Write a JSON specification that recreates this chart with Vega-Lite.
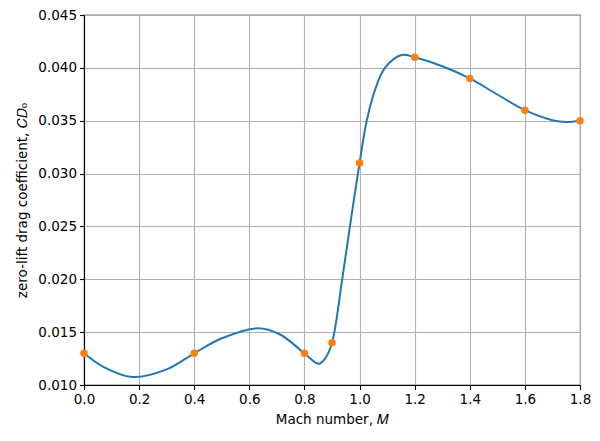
{
  "$schema": "https://vega.github.io/schema/vega-lite/v6.json",
  "width": 496,
  "height": 370,
  "autosize": "none",
  "padding": {"left": 84, "top": 15, "right": 20, "bottom": 56},
  "background": "white",
  "datasets": {
    "curve": [
      {"M": 0.0, "CD0": 0.0130},
      {"M": 0.07, "CD0": 0.01172},
      {"M": 0.175, "CD0": 0.01076},
      {"M": 0.3, "CD0": 0.01148},
      {"M": 0.4, "CD0": 0.0130},
      {"M": 0.5, "CD0": 0.01442},
      {"M": 0.63, "CD0": 0.01536},
      {"M": 0.71, "CD0": 0.0148},
      {"M": 0.8, "CD0": 0.0130},
      {"M": 0.852, "CD0": 0.0120},
      {"M": 0.875, "CD0": 0.0125},
      {"M": 0.9, "CD0": 0.0140},
      {"M": 0.937, "CD0": 0.0200},
      {"M": 0.965, "CD0": 0.0250},
      {"M": 1.0, "CD0": 0.0310},
      {"M": 1.026, "CD0": 0.0350},
      {"M": 1.056, "CD0": 0.0379},
      {"M": 1.092, "CD0": 0.0400},
      {"M": 1.153, "CD0": 0.04122},
      {"M": 1.2, "CD0": 0.0410},
      {"M": 1.3, "CD0": 0.04015},
      {"M": 1.4, "CD0": 0.0390},
      {"M": 1.5, "CD0": 0.03748},
      {"M": 1.6, "CD0": 0.0360},
      {"M": 1.7, "CD0": 0.03505},
      {"M": 1.75, "CD0": 0.03488},
      {"M": 1.8, "CD0": 0.0350}
    ],
    "measured": [
      {"M": 0.0, "CD0": 0.013},
      {"M": 0.4, "CD0": 0.013},
      {"M": 0.8, "CD0": 0.013},
      {"M": 0.9, "CD0": 0.014},
      {"M": 1.0, "CD0": 0.031},
      {"M": 1.2, "CD0": 0.041},
      {"M": 1.4, "CD0": 0.039},
      {"M": 1.6, "CD0": 0.036},
      {"M": 1.8, "CD0": 0.035}
    ]
  },
  "encoding": {
    "x": {
      "field": "M",
      "type": "quantitative",
      "scale": {"domain": [0, 1.8], "nice": false, "zero": false},
      "axis": {
        "title": "Mach number, 𝑀",
        "values": [0, 0.2, 0.4, 0.6, 0.8, 1.0, 1.2, 1.4, 1.6, 1.8],
        "format": ".1f",
        "titlePadding": 6
      }
    },
    "y": {
      "field": "CD0",
      "type": "quantitative",
      "scale": {"domain": [0.01, 0.045], "nice": false, "zero": false},
      "axis": {
        "title": "zero-lift drag coefficient, 𝐶𝐷₀",
        "values": [0.01, 0.015, 0.02, 0.025, 0.03, 0.035, 0.04, 0.045],
        "format": ".3f",
        "titlePadding": 8
      }
    }
  },
  "layer": [
    {
      "data": {"name": "curve"},
      "mark": {"type": "line", "color": "#1f77b4", "strokeWidth": 2, "interpolate": "catmull-rom", "clip": true}
    },
    {
      "data": {"name": "measured"},
      "mark": {"type": "point", "filled": true, "color": "#ff7f0e", "opacity": 1, "size": 56, "clip": false}
    }
  ],
  "config": {
    "font": "DejaVu Sans",
    "view": {"stroke": "black", "strokeWidth": 1.1},
    "axis": {
      "domainColor": "black",
      "domainWidth": 1.1,
      "tickColor": "black",
      "tickWidth": 1.1,
      "tickSize": 4.5,
      "labelFont": "DejaVu Sans",
      "labelFontSize": 13.5,
      "labelColor": "black",
      "labelPadding": 3,
      "titleFont": "DejaVu Sans",
      "titleFontSize": 13.5,
      "titleFontWeight": "normal",
      "titleColor": "black",
      "grid": true,
      "gridColor": "#b0b0b0",
      "gridWidth": 1.1,
      "gridOpacity": 1
    },
    "axisX": {"labelFlush": false},
    "axisY": {"labelFlush": false}
  }
}
